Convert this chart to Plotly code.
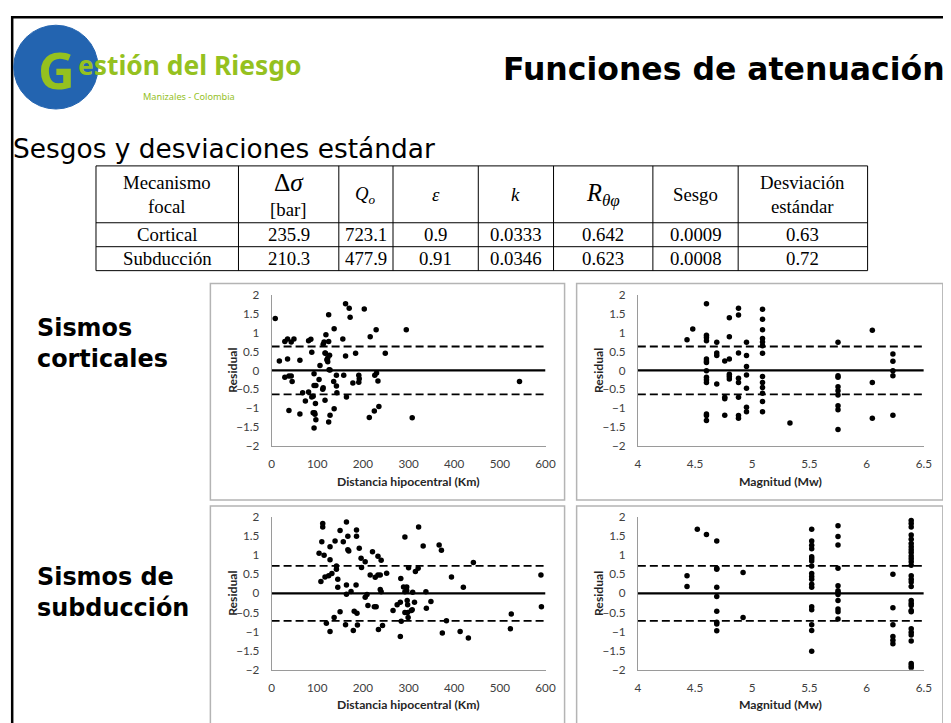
import plotly.graph_objects as go

W, H = 951, 723
# the photographed page shows the figure slightly shrunk and shifted; map target pixels back
S, DX, DY = 0.983, 12.5, 15.0

# ---- table data ----
table_header = ["Mecanismo<br>focal", "Δ<i>σ</i>", "<i>Q<sub>o</sub></i>", "<i>ε</i>", "<i>k</i>",
                "<i>R<sub>θφ</sub></i>", "Sesgo", "Desviación<br>estándar"]
row_cortical = ["Cortical", "235.9", "723.1", "0.9", "0.0333", "0.642", "0.0009", "0.63"]
row_subduccion = ["Subducción", "210.3", "477.9", "0.91", "0.0346", "0.623", "0.0008", "0.72"]
sd_cortical = 0.63
sd_subduccion = 0.72

# ---- residuals, sismos corticales ----
cort_dist_x = [8, 17, 29, 35, 29, 35, 38, 38, 43, 45, 43, 49, 62, 62, 68, 74, 81, 81, 86, 88,
               88, 91, 91, 94, 93, 93, 97, 95, 93, 96, 97, 104, 106, 112, 113, 113, 115, 117, 118, 117,
               119, 121, 123, 123, 125, 125, 126, 128, 127, 125, 128, 136, 137, 137, 142, 142, 143, 156, 158, 162,
               162, 164, 170, 172, 178, 184, 203, 191, 192, 191, 216, 214, 225, 226, 230, 229, 233, 235, 249, 295,
               308, 543]
cort_dist_y = [1.37, 0.25, 0.76, 0.83, -0.18, 0.3, -0.15, -1.06, -0.15, -0.29, 0.75, 0.83, 0.27, -1.15, -0.59, -0.81, -0.57, 0.78, 0.82, 0.48,
               -0.7, -0.68, -1.12, -1.12, -0.09, -0.4, -0.4, -1.16, -1.52, -0.87, -1.3, -0.24, 0.13, -0.5, -0.46, 0.69, 0.75, 0.46, 0.45, -0.79,
               0.94, 0.28, 0.33, 0.23, 0.76, 1.47, 0.02, 0.01, 0.4, -1.36, -1.18, -0.29, -1.01, 1.1, -0.13, -0.41, -0.59, 0.83, -0.13, 1.76,
               0.38, -0.7, 1.64, 1.4, -0.33, 0.45, 1.62, -0.13, -0.22, -0.31, 0.89, -1.24, -1.07, -0.13, -0.07, 1.07, -0.28, -0.95, 0.45, 1.07,
               -1.25, -0.29]

cort_mag_x = [4.43, 4.48] + [4.6] * 14 + [4.69] * 4 + [4.76] * 4 + [4.8] * 6 + [4.88] * 8 + [4.95] * 7 + \
             [5.09] * 13 + [5.33] + [5.75] * 9 + [6.05] * 3 + [6.23] * 5
cort_mag_y = [0.81, 1.09,
              1.76, 0.93, 0.87, 0.78, 0.3, 0.25, 0.21, -0.01, -0.18, -0.25, -0.32, -1.15, -1.19, -1.32,
              0.74, 0.46, 0.39, -0.36,
              0.25, -0.71, -0.75, -1.18,
              1.39, 0.89, 0.3, -0.1, -0.16, -0.23,
              1.64, 1.46, 0.46, -0.21, -0.32, -0.71, -1.19, -1.26,
              0.74, 0.39, 0.1, -0.12, -0.47, -0.97, -1.09,
              1.61, 1.35, 1.07, 0.84, 0.75, 0.65, 0.45, -0.16, -0.32, -0.45, -0.6, -0.82, -1.09,
              -1.39,
              0.74, -0.14, -0.18, -0.43, -0.54, -0.65, -0.93, -1.04, -1.56,
              1.06, -0.32, -1.26,
              0.43, 0.24, -0.01, -0.14, -1.18]

# ---- residuals, sismos de subduccion ----
sub_dist_x = [104, 108, 110, 112, 112, 115, 117, 120, 125, 128, 128, 128, 132, 137, 139, 142, 142, 145, 145, 150,
              150, 157, 162, 164, 164, 164, 167, 167, 169, 174, 179, 181, 185, 186, 186, 187, 188, 192, 196, 197,
              205, 205, 209, 211, 216, 221, 225, 229, 227, 233, 233, 234, 238, 238, 240, 240, 243, 252, 266, 275,
              282, 283, 282, 284, 289, 292, 292, 292, 296, 296, 297, 298, 298, 299, 300, 306, 308, 309, 313, 315,
              321, 322, 332, 338, 339, 349, 367, 372, 374, 383, 394, 413, 420, 431, 442, 523, 525, 590, 591]
sub_dist_y = [1.05, 0.31, 1.35, 1.83, 1.74, 1.0, 0.43, -0.78, 0.46, 0.88, 1.22, -1.0, 0.52, -0.63, 1.37, 0.72, 0.63, 0.37, 0.16, 1.65,
              -0.48, 1.35, -0.82, 1.87, 0.22, -0.02, 1.5, 1.14, 1.11, 0.05, -0.97, -0.47, 0.22, 1.66, 1.5, -0.52, -0.83, 1.18, 0.92, 0.68,
              0.83, -0.1, -0.03, -0.32, 0.48, 1.09, -0.35, -0.35, 0.42, 0.48, 0.97, -0.95, 0.48, 0.1, 0.04, 0.87, -0.84, 0.53, -0.45, -0.3,
              -0.23, 0.39, -1.13, -0.73, 0.17, 1.48, 0.04, -0.5, 0.17, 0.07, -0.19, -0.3, -0.5, -0.63, 0.67, -0.45, -0.43, 0.03, -0.23, 0.57,
              0.66, 1.74, 1.24, 0.04, -0.39, -0.21, 1.27, 1.13, -1.04, -0.72, 0.43, -1.0, 0.16, -1.17, 0.81, -0.93, -0.54, 0.48, -0.35]

sub_mag_x = [4.43] * 2 + [4.52] + [4.6] + [4.69] * 9 + [4.92] * 2 + [5.52] * 18 + [5.75] * 12 + \
            [6.23] * 6 + [6.39] * 29
sub_mag_y = [0.46, 0.18,
             1.68,
             1.54,
             1.37, 0.66, 0.63, 0.16, -0.08, -0.47, -0.76, -0.8, -0.98,
             0.55, -0.63,
             1.68, 1.37, 1.26, 1.17, 0.96, 0.91, 0.85, 0.72, 0.52, 0.44, 0.37, 0.24, 0.16, -0.35, -0.43, -0.82, -0.97, -1.52,
             1.77, 1.49, 1.27, 0.66, 0.2, 0.07, 0.03, -0.03, -0.19, -0.41, -0.48, -0.67,
             0.5, -0.38, -0.82, -1.13, -1.23, -1.32,
             1.91, 1.83, 1.74, 1.53, 1.42, 1.31, 1.22, 1.14, 1.07, 0.98, 0.91, 0.83, 0.74, 0.46, 0.37, 0.3, 0.18,
             -0.19, -0.26, -0.32, -0.45, -0.48, -0.93, -1.02, -1.09, -1.25, -1.84, -1.9, -1.95]

dist_ticks = [0, 100, 200, 300, 400, 500, 600]
mag_ticks = [4, 4.5, 5, 5.5, 6, 6.5]
res_ticks = [-2, -1.5, -1, -0.5, 0, 0.5, 1, 1.5, 2]


# target pixel -> paper coordinate
def fx(q):
    return (q / S - DX) / W


def fy(q):
    return 1 - (q / S - DY) / H


def fs(size):
    return round(size / S, 1)


def note(text, x, y, size, family="DejaVu Sans", color="black", xanchor="center", **kw):
    return dict(text=text, x=fx(x), y=fy(y), xref="paper", yref="paper", showarrow=False,
                xanchor=xanchor, yanchor="middle", font=dict(family=family, size=fs(size), color=color), **kw)


fig = go.Figure()

panels = [
    # x data, y data, sd, axis suffix, x range, ticks, x title, plot area px (x0, x1, ytop, ybot)
    (cort_dist_x, cort_dist_y, sd_cortical, "", [0, 600], dist_ticks, "Distancia hipocentral (Km)", (272, 545, 294, 446)),
    (cort_mag_x, cort_mag_y, sd_cortical, "2", [4, 6.5], mag_ticks, "Magnitud (Mw)", (637, 922, 294, 446)),
    (sub_dist_x, sub_dist_y, sd_subduccion, "3", [0, 600], dist_ticks, "Distancia hipocentral (Km)", (272, 545, 517, 670)),
    (sub_mag_x, sub_mag_y, sd_subduccion, "4", [4, 6.5], mag_ticks, "Magnitud (Mw)", (637, 922, 517, 670)),
]

annotations = []
shapes = []
axis_font = dict(family="Lato", size=fs(11.5), color="#404040")

for xs, ys, sd, suf, xr, ticks, xtitle, box in panels:
    x0, x1, yt, yb = box
    xa, ya = "x" + suf, "y" + suf
    for lvl, dash, w in [(0, "solid", 2.4), (sd, "8px,4px", 1.8), (-sd, "8px,4px", 1.8)]:
        fig.add_trace(go.Scatter(x=xr, y=[lvl, lvl], mode="lines", xaxis=xa, yaxis=ya,
                                 line=dict(color="black", width=w, dash=dash), hoverinfo="skip"))
    fig.add_trace(go.Scatter(x=xs, y=ys, mode="markers", xaxis=xa, yaxis=ya,
                             marker=dict(color="black", size=5.5)))
    common = dict(showgrid=False, zeroline=False, showline=True, linecolor="#9a9a9a", linewidth=1,
                  ticks="", tickfont=axis_font)
    fig.layout["xaxis" + suf] = dict(domain=[fx(x0), fx(x1)], range=xr, tickvals=ticks, anchor=ya,
                                     ticklabelstandoff=7, **common)
    fig.layout["yaxis" + suf] = dict(domain=[fy(yb), fy(yt)], range=[-2, 2], tickvals=res_ticks, anchor=xa,
                                     ticklabelstandoff=9, **common)
    annotations.append(note("<b>" + xtitle + "</b>", (x0 + x1) / 2, yb + 35, 12, "Lato", "#262626"))
    annotations.append(note("<b>Residual</b>", x0 - 39, (yt + yb) / 2, 12, "Lato", "#262626", textangle=-90))
    # chart frame
    shapes.append(dict(type="rect", xref="paper", yref="paper", x0=fx(x0 - 61), x1=fx(x1 + 19),
                       y0=fy(yb + 54 if yt < 400 else yb + 80), y1=fy(yt - 11),
                       line=dict(color="#b4b4b4", width=1.5)))

# slide border (kept just inside the visible area)
shapes.append(dict(type="rect", xref="paper", yref="paper", x0=1.2 / W, x1=1 - 1.2 / W, y0=-0.2, y1=1 - 1.2 / H,
                   line=dict(color="black", width=2.5)))

# logo
shapes.append(dict(type="circle", xref="paper", yref="paper", x0=fx(15), x1=fx(99), y0=fy(108), y1=fy(24),
                   fillcolor="#2364b0", line=dict(color="#2364b0", width=1)))
annotations.append(note("<b>G</b>", 58, 68, 50, "Noto Sans", "#95c11f"))
annotations.append(note("<b>estión del Riesgo</b>", 77, 64, 26, "Noto Sans", "#95c11f", xanchor="left"))
annotations.append(note("Manizales - Colombia", 190, 95, 9, "Noto Sans", "#95c11f"))

# titles
annotations.append(note("<b>Funciones de atenuación</b>", 945, 68, 31, xanchor="right"))
annotations.append(note("Sesgos y desviaciones estándar", 12, 148, 26, xanchor="left"))
annotations.append(note("<b>Sismos<br>corticales</b>", 36, 343, 23.5, xanchor="left", align="left"))
annotations.append(note("<b>Sismos de<br>subducción</b>", 36, 593, 23.5, xanchor="left", align="left"))

# table
col_edges = [97, 239, 339, 393, 478, 553, 652, 737, 866]
row_edges = [165, 222, 246, 270]
for xe in col_edges:
    shapes.append(dict(type="line", xref="paper", yref="paper", x0=fx(xe), x1=fx(xe), y0=fy(row_edges[0]),
                       y1=fy(row_edges[-1]), line=dict(color="black", width=1)))
for ye in row_edges:
    shapes.append(dict(type="line", xref="paper", yref="paper", x0=fx(col_edges[0]), x1=fx(col_edges[-1]),
                       y0=fy(ye), y1=fy(ye), line=dict(color="black", width=1)))
serif = "Liberation Serif"
for i in range(len(table_header)):
    cx = (col_edges[i] + col_edges[i + 1]) / 2
    if i == 1:
        annotations.append(note(table_header[i], cx, 181, 25, serif))
        annotations.append(note("[bar]", cx, 209, 18.5, serif))
    else:
        annotations.append(note(table_header[i], cx, 194, 24 if i == 5 else 18.5, serif))
    for r, row in enumerate([row_cortical, row_subduccion]):
        annotations.append(note(row[i], cx, 234 + 24 * r, 18.5, serif))

fig.update_layout(width=W, height=H, margin=dict(l=0, r=0, t=0, b=0), showlegend=False,
                  plot_bgcolor="white", paper_bgcolor="white", shapes=shapes, annotations=annotations)

fig.write_html("out.html")
